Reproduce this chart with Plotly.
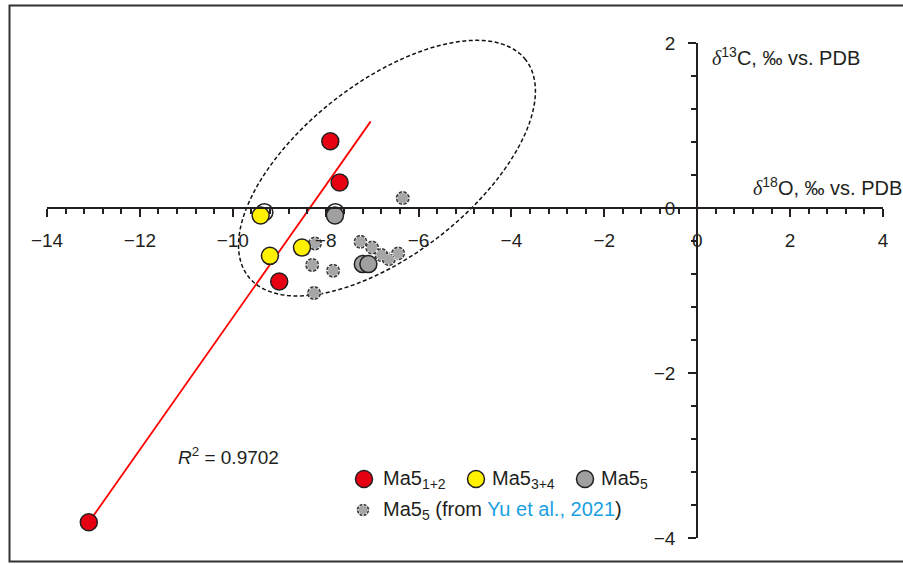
import numpy as np
import plotly.graph_objects as go

# ---------------- data ----------------
ma12_x = [-7.90, -7.70, -9.00, -13.10]
ma12_y = [0.81, 0.31, -0.89, -3.81]

ma34_x = [-9.40, -9.20, -8.51]
ma34_y = [-0.09, -0.58, -0.48]

ma5_x = [-7.80, -7.20, -7.08]
ma5_y = [-0.09, -0.68, -0.68]

hidden_x = [-9.32, -7.79]
hidden_y = [-0.05, -0.05]

yu_x = [-6.34, -8.23, -7.25, -7.00, -6.80, -6.64, -6.44, -8.29, -7.84, -8.25]
yu_y = [0.12, -0.43, -0.41, -0.48, -0.57, -0.62, -0.55, -0.69, -0.76, -1.03]

fit_x = [-13.10, -7.03]
fit_y = [-3.81, 1.05]

x_ticks = [-14, -12, -10, -8, -6, -4, -2, 0, 2, 4]
y_ticks = [-4, -2, 0, 2]

# ellipse (centre in data units, semi-axes in screen pixels, tilt in degrees)
ell_cx, ell_cy = -6.68, 0.483
ell_a, ell_b, ell_ang = 176, 86, 38

# ---------------- layout geometry ----------------
W, H = 903, 564
ML, MR, MT, MB = 47, 20, 43, 26
PW, PH = W - ML - MR, H - MT - MB
XR = [-14, 4]
YR = [-4, 2]
ppx = PW / (XR[1] - XR[0])
ppy = PH / (YR[1] - YR[0])


def fx(px):
    return (px - ML) / PW


def fy(py):
    return (H - MB - py) / PH


AX = "#231F20"
FONT = "Liberation Sans, Arial, sans-serif"
FS = 19
FS2 = 20
RED, YEL, GRY, SGRY = "#E60012", "#FFF100", "#A0A0A0", "#A6A6A6"

fig = go.Figure()

# ellipse as an unclipped paper-referenced path (so it can poke above the y range)
t = np.linspace(0, 2 * np.pi, 241)
th = np.deg2rad(ell_ang)
dxp = ell_a * np.cos(t) * np.cos(th) - ell_b * np.sin(t) * np.sin(th)
dyp = ell_a * np.cos(t) * np.sin(th) + ell_b * np.sin(t) * np.cos(th)
ex = (ell_cx + dxp / ppx - XR[0]) / (XR[1] - XR[0])
ey = (ell_cy + dyp / ppy - YR[0]) / (YR[1] - YR[0])
path = "M " + " L ".join(f"{a:.5f},{b:.5f}" for a, b in zip(ex, ey)) + " Z"
fig.add_shape(type="path", xref="paper", yref="paper", path=path,
              line=dict(color="#111", width=1.5, dash="4px,2.5px"), layer="below")

# regression line
fig.add_trace(go.Scatter(x=fit_x, y=fit_y, mode="lines",
                         line=dict(color="#FF0000", width=1.8), showlegend=False))


def dashed_points(xs, ys, xa="x", ya="y", size=12):
    fig.add_trace(go.Scatter(x=xs, y=ys, mode="markers", xaxis=xa, yaxis=ya,
                             marker=dict(size=size, color=SGRY, line=dict(color="#3a3a3a", width=1.5)),
                             showlegend=False, cliponaxis=False))
    fig.add_trace(go.Scatter(x=xs, y=ys, mode="markers", xaxis=xa, yaxis=ya,
                             marker=dict(size=size + 1, symbol="asterisk-open", color="white",
                                         line=dict(color="white", width=1.2)),
                             showlegend=False, cliponaxis=False))
    fig.add_trace(go.Scatter(x=xs, y=ys, mode="markers", xaxis=xa, yaxis=ya,
                             marker=dict(size=size - 2.5, color=SGRY, line=dict(width=0)),
                             showlegend=False, cliponaxis=False))


dashed_points(yu_x, yu_y, size=12.5)


def big_points(xs, ys, color, xa="x", ya="y"):
    fig.add_trace(go.Scatter(x=xs, y=ys, mode="markers", xaxis=xa, yaxis=ya,
                             marker=dict(size=17, color=color, line=dict(color=AX, width=1.5)),
                             showlegend=False, cliponaxis=False))


big_points(hidden_x, hidden_y, "white")
big_points(ma5_x, ma5_y, GRY)
big_points(ma34_x, ma34_y, YEL)
big_points(ma12_x, ma12_y, RED)

# legend markers (overlay axis in screen-pixel units)
big_points([364], [479], RED, "x2", "y2")
big_points([476], [479], YEL, "x2", "y2")
big_points([585], [479], GRY, "x2", "y2")
dashed_points([363], [510], "x2", "y2", size=11)

minor = dict(dtick=0.4, ticks="outside", ticklen=5, tickwidth=1.5, tickcolor=AX)
fig.update_layout(
    width=W, height=H,
    margin=dict(l=ML, r=MR, t=MT, b=MB, pad=0),
    paper_bgcolor="white", plot_bgcolor="rgba(0,0,0,0)",
    showlegend=False,
    font=dict(family=FONT, color=AX, size=FS),
    xaxis=dict(range=XR, domain=[0, 1], anchor="free", position=(0 - YR[0]) / (YR[1] - YR[0]),
               tickvals=x_ticks, ticks="outside", ticklen=8, tickwidth=1.5, tickcolor=AX,
               showline=True, linecolor=AX, linewidth=2, showgrid=False, zeroline=False,
               ticklabelstandoff=7, tickfont=dict(size=FS, color=AX), minor=minor),
    yaxis=dict(range=YR, domain=[0, 1], anchor="free", position=(0 - XR[0]) / (XR[1] - XR[0]),
               tickvals=y_ticks, ticks="outside", ticklen=8, tickwidth=1.5, tickcolor=AX,
               showline=True, linecolor=AX, linewidth=2, showgrid=False, zeroline=False,
               ticklabelstandoff=9, tickfont=dict(size=FS, color=AX), minor=minor),
    xaxis2=dict(range=[ML, W - MR], overlaying="x", visible=False, anchor="y2"),
    yaxis2=dict(range=[H - MB, MT], overlaying="y", visible=False, anchor="x2"),
)

DELTA = "<span style='font-family:Liberation Serif'><i>δ</i></span>"
ann = [
    dict(x=fx(903), y=fy(186), text=DELTA + "<sup>18</sup>O, ‰ vs. PDB", xanchor="right", yanchor="middle", s=FS2),
    dict(x=fx(711), y=fy(57), text=DELTA + "<sup>13</sup>C, ‰ vs. PDB", xanchor="left", yanchor="middle", s=FS2),
    dict(x=fx(177), y=fy(456), text="<i>R</i><sup>2</sup> = 0.9702", xanchor="left", yanchor="middle", s=FS),
    dict(x=fx(382), y=fy(479), text="Ma5<sub>1+2</sub>", xanchor="left", yanchor="middle", s=FS2),
    dict(x=fx(491), y=fy(479), text="Ma5<sub>3+4</sub>", xanchor="left", yanchor="middle", s=FS2),
    dict(x=fx(600), y=fy(479), text="Ma5<sub>5</sub>", xanchor="left", yanchor="middle", s=FS2),
    dict(x=fx(382), y=fy(510),
         text="Ma5<sub>5</sub> (from <span style='color:#1AA0E0'>Yu et al., 2021</span>)",
         xanchor="left", yanchor="middle", s=FS2),
]
for a in ann:
    s = a.pop("s")
    a.update(xref="paper", yref="paper", showarrow=False, borderpad=0,
             font=dict(size=s, color=AX, family=FONT))
fig.update_layout(annotations=ann)

# outer frame
fig.add_shape(type="rect", xref="paper", yref="paper",
              x0=fx(9.5), x1=fx(915), y0=fy(561.5), y1=fy(5.5),
              line=dict(color="#333", width=2), fillcolor="rgba(0,0,0,0)", layer="above")

fig.write_html("out.html", config={"displayModeBar": False},
               post_script="document.body.style.margin='0px';")
